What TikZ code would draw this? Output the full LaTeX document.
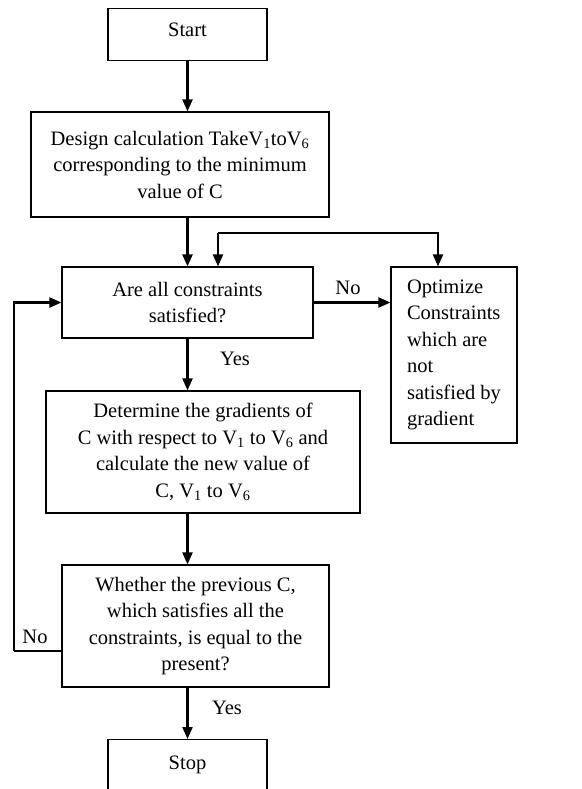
\documentclass[tikz,border=0pt]{standalone}
\usepackage{fontspec}
\setmainfont{Liberation Serif}
\usetikzlibrary{arrows.meta, positioning, calc}

\begin{document}
\begin{tikzpicture}[x=1pt, y=-1pt,
  box/.style={rectangle, draw=black, line width=1.2pt, align=center, inner sep=0pt,
              font=\fontsize{20.5}{26.5}\selectfont},
  arr/.style={-{Triangle[length=12pt, width=10pt]}, line width=2.2pt},
  lbl/.style={font=\fontsize{20.5}{24}\selectfont, inner sep=0pt}
]
  \clip (0,0) rectangle (581,789);
  \node[box, anchor=north, minimum width=159pt, inner ysep=8pt, text height=20pt, text depth=16pt]
    (start) at (187.5,8) {Start};
  \node[box, minimum width=298pt, minimum height=105pt] (design) at (180,164.5)
    {Design calculation TakeV\textsubscript{1}toV\textsubscript{6}\\corresponding to the minimum\\value of C};
  \node[box, minimum width=251pt, minimum height=71pt] (cons) at (187.5,302.5)
    {Are all constraints\\satisfied?};
  \node[box, align=left, minimum width=126pt, minimum height=176pt] (opt) at (454,355)
    {Optimize\\Constraints\\which are\\not\\satisfied by\\gradient};
  \node[box, minimum width=314pt, minimum height=122pt] (grad) at (203,452)
    {Determine the gradients of\\C with respect to V\textsubscript{1} to V\textsubscript{6} and\\calculate the new value of\\C, V\textsubscript{1} to V\textsubscript{6}};
  \node[box, minimum width=267pt, minimum height=122pt] (same) at (195.5,626)
    {Whether the previous C,\\which satisfies all the\\constraints, is equal to the\\present?};
  \node[box, anchor=north, minimum width=159pt, inner ysep=10pt, text height=20pt, text depth=20pt]
    (stop) at (187.5,739) {Stop};

  \coordinate (jL) at (218,233);
  \coordinate (jR) at (438,233);
  \coordinate (back) at (14,651);

  \draw[arr] (start.south) -- (start.south |- design.north);
  \draw[arr] (cons.north |- design.south) -- (cons.north);
  \draw[arr] (jL) -- (jL |- cons.north);
  \draw[arr] (jL) -- (jR) -- (jR |- opt.north);
  \draw[arr] (cons.east) -- (cons.east -| opt.west);
  \draw[arr] (cons.south) -- (cons.south |- grad.north);
  \draw[arr] (cons.south |- grad.south) -- (cons.south |- same.north);
  \draw[line width=1.2pt] (back -| same.west) -- (back);
  \draw[arr] (back) |- (cons.west);
  \draw[arr] (cons.south |- same.south) -- (stop.north);

  \node[lbl] (lno1) at (348,288) {No};
  \node[lbl] (lyes1) at (235,359) {Yes};
  \node[lbl] (lno2) at (35,637) {No};
  \node[lbl] (lyes2) at (227,708) {Yes};
\end{tikzpicture}
\end{document}
